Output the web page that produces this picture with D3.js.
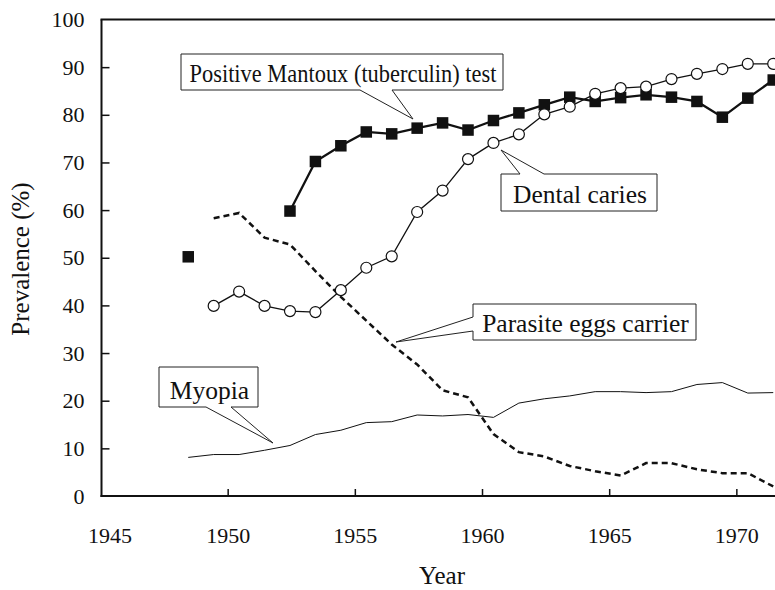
<!DOCTYPE html>
<html lang="en">
<head>
  <meta charset="UTF-8">
  <title>Prevalence by year</title>
  <script src="https://d3js.org/d3.v7.min.js"></script>
  <style>
    body {
      margin: 0;
      background: #fff;
    }
    .tick line { stroke: #111; stroke-width: 1.5; }
    .domain { display: none; }
  </style>
</head>
<body>
  <svg width="775" height="590"></svg>

  <script>
    // survey years (points sit mid-year)
    const years = [1948, 1949, 1950, 1951, 1952, 1953, 1954, 1955, 1956, 1957, 1958, 1959,
                   1960, 1961, 1962, 1963, 1964, 1965, 1966, 1967, 1968, 1969, 1970, 1971];
    const tuberculin = [50.2, null, null, null, 59.8, 70.2, 73.5, 76.4, 76.0, 77.2, 78.3, 76.8,
                        78.8, 80.4, 82.1, 83.7, 82.8, 83.6, 84.2, 83.7, 82.8, 79.5, 83.5, 87.3];
    const dental = [null, 39.9, 42.9, 39.9, 38.8, 38.6, 43.2, 47.9, 50.3, 59.6, 64.1, 70.7,
                    74.1, 75.9, 80.1, 81.7, 84.4, 85.6, 85.9, 87.5, 88.6, 89.6, 90.7, 90.7];
    const parasite = [null, 58.3, 59.4, 54.2, 52.8, 47.2, 41.8, 36.8, 31.8, 27.6, 22.2, 20.7,
                      13.0, 9.2, 8.3, 6.3, 5.2, 4.3, 6.9, 6.9, 5.6, 4.8, 4.8, 2.0];
    const myopia = [8.1, 8.7, 8.7, 9.6, 10.6, 12.9, 13.8, 15.4, 15.6, 17.0, 16.8, 17.1,
                    16.5, 19.5, 20.4, 21.0, 21.9, 21.9, 21.7, 21.9, 23.4, 23.8, 21.6, 21.7];
    const xTicks = [1945, 1950, 1955, 1960, 1965, 1970];
    const yTicks = [0, 10, 20, 30, 40, 50, 60, 70, 80, 90, 100];

    const midYear = 0.45;
    const serif = '"Liberation Serif", "Times New Roman", Times, serif';

    const svg = d3.select("svg");
    const x = d3.scaleLinear().domain([1945, 1971.5]).range([100.5, 774.5]);
    const y = d3.scaleLinear().domain([0, 100]).range([496, 19.5]);

    const series = arr => years.map((yr, i) => ({ year: yr + midYear, value: arr[i] }))
      .filter(d => d.value != null);

    // axes
    const xAxis = svg.append("g")
      .attr("transform", `translate(0,${y(0)})`)
      .call(d3.axisBottom(x).tickValues(xTicks).tickFormat(d3.format("d"))
        .tickSizeInner(-7).tickSizeOuter(0).tickPadding(31));
    xAxis.selectAll("text").style("font-size", "22px");
    xAxis.selectAll(".tick").filter(d => d === 1945).select("text").attr("dx", 9);
    xAxis.selectAll(".tick").filter(d => d === 1945).select("line").remove();

    const yAxis = svg.append("g")
      .attr("transform", `translate(${x(1945) + 1},0)`)
      .call(d3.axisLeft(y).tickValues(yTicks)
        .tickSizeInner(-8).tickSizeOuter(0).tickPadding(17));
    yAxis.selectAll("text").style("font-size", "22px");
    yAxis.selectAll(".tick").filter(d => d === 0 || d === 100).select("line").remove();

    // frame: left, bottom, top
    const frame = svg.append("g").attr("stroke", "#111").attr("stroke-width", 2).attr("fill", "none");
    frame.append("line").attr("x1", x(1945) + 1).attr("x2", x(1945) + 1).attr("y1", y(100)).attr("y2", y(0) + 1);
    frame.append("line").attr("x1", x(1945)).attr("x2", 775).attr("y1", y(0)).attr("y2", y(0));
    frame.append("line").attr("x1", x(1945)).attr("x2", 775).attr("y1", y(100)).attr("y2", y(100));

    svg.append("text")
      .attr("x", 442).attr("y", 584)
      .attr("text-anchor", "middle")
      .style("font-size", "25px")
      .text("Year");

    svg.append("text")
      .attr("transform", "translate(29,259) rotate(-90)")
      .attr("text-anchor", "middle")
      .style("font-size", "25px")
      .text("Prevalence (%)");

    const line = d3.line().x(d => x(d.year)).y(d => y(d.value));

    // Myopia - thin solid
    svg.append("path")
      .datum(series(myopia))
      .attr("fill", "none").attr("stroke", "#111").attr("stroke-width", 1)
      .attr("d", line);

    // Parasite eggs carrier - dashed
    svg.append("path")
      .datum(series(parasite))
      .attr("fill", "none").attr("stroke", "#111").attr("stroke-width", 2.5)
      .attr("stroke-dasharray", "6,4")
      .attr("d", line);

    // Mantoux - thick line with squares (1948 point stands alone)
    const tb = series(tuberculin);
    svg.append("path")
      .datum(tb.filter(d => d.year > 1950))
      .attr("fill", "none").attr("stroke", "#111").attr("stroke-width", 2.3)
      .attr("d", line);

    // Dental caries - line with open circles
    const dc = series(dental);
    svg.append("path")
      .datum(dc)
      .attr("fill", "none").attr("stroke", "#111").attr("stroke-width", 1.3)
      .attr("d", line);

    const sq = 11.5;
    svg.append("g").selectAll("rect")
      .data(tb)
      .join("rect")
      .attr("x", d => x(d.year) - sq / 2)
      .attr("y", d => y(d.value) - sq / 2)
      .attr("width", sq).attr("height", sq)
      .attr("fill", "#111");

    svg.append("g").selectAll("circle")
      .data(dc)
      .join("circle")
      .attr("cx", d => x(d.year))
      .attr("cy", d => y(d.value))
      .attr("r", 5.5)
      .attr("fill", "#fff").attr("stroke", "#111").attr("stroke-width", 1.2);

    // callouts
    const callouts = [
      { text: "Positive Mantoux (tuberculin) test", box: [181, 54, 503, 90], side: "bottom", base: [360, 392], tip: [413, 119], fit: 307 },
      { text: "Dental caries", box: [501, 174, 657, 211], side: "top", base: [520, 544], tip: [501, 150] },
      { text: "Parasite eggs carrier", box: [473, 304, 696, 340], side: "left", base: [317, 331], tip: [396, 342] },
      { text: "Myopia", box: [159, 367, 258, 407], side: "bottom", base: [206, 231], tip: [273, 443] }
    ];

    callouts.forEach(c => {
      const [x0, y0, x1, y1] = c.box;
      const [b1, b2] = c.base;
      const [tx, ty] = c.tip;
      let p;
      if (c.side === "bottom") {
        p = `M${x0},${y0}H${x1}V${y1}H${b2}L${tx},${ty}L${b1},${y1}H${x0}Z`;
      } else if (c.side === "top") {
        p = `M${x0},${y0}H${b1}L${tx},${ty}L${b2},${y0}H${x1}V${y1}H${x0}Z`;
      } else {
        p = `M${x0},${y0}H${x1}V${y1}H${x0}V${b2}L${tx},${ty}L${x0},${b1}Z`;
      }
      svg.append("path")
        .attr("d", p)
        .attr("fill", "#fff").attr("stroke", "#222").attr("stroke-width", 1);
      const t = svg.append("text")
        .attr("x", (x0 + x1) / 2 + 1)
        .attr("y", y1 - 8.5)
        .attr("text-anchor", "middle")
        .style("font-size", "25.5px")
        .text(c.text);
      if (c.fit) t.attr("textLength", c.fit).attr("lengthAdjust", "spacingAndGlyphs");
    });

    // same serif face and colour everywhere, including the axis labels
    svg.selectAll("text").style("font-family", serif).attr("fill", "#111");
  </script>
</body>
</html>
